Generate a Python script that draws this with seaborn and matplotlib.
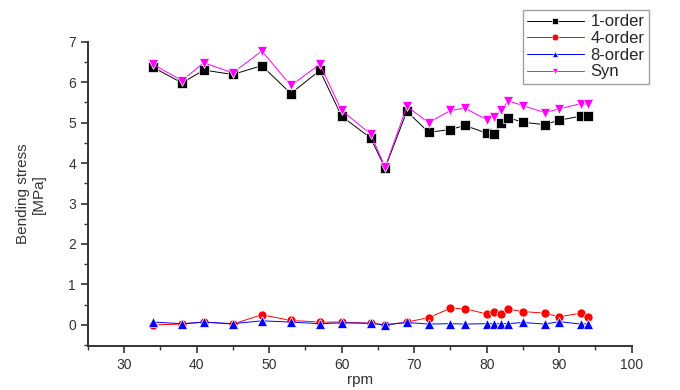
import numpy as np
import pandas as pd
import matplotlib
matplotlib.use("Agg")
import matplotlib.pyplot as plt
import seaborn as sns
from matplotlib.ticker import MultipleLocator

rpm = [34, 38, 41, 45, 49, 53, 57, 60, 64, 66, 69, 72, 75, 77, 80, 81, 82, 83, 85, 88, 90, 93, 94]
order1 = [6.37, 5.98, 6.30, 6.19, 6.41, 5.72, 6.29, 5.16, 4.62, 3.88, 5.28, 4.76, 4.83, 4.93,
          4.74, 4.73, 4.99, 5.12, 5.01, 4.95, 5.06, 5.16, 5.17]
order4 = [0.00, 0.02, 0.07, 0.02, 0.25, 0.11, 0.07, 0.07, 0.04, 0.00, 0.07, 0.18, 0.41, 0.40,
          0.27, 0.33, 0.27, 0.39, 0.33, 0.29, 0.20, 0.29, 0.20]
order8 = [0.07, 0.03, 0.07, 0.03, 0.10, 0.07, 0.03, 0.05, 0.04, 0.00, 0.06, 0.02, 0.03, 0.02,
          0.03, 0.03, 0.03, 0.03, 0.06, 0.02, 0.08, 0.02, 0.03]
syn = [6.44, 6.04, 6.48, 6.23, 6.77, 5.92, 6.44, 5.30, 4.72, 3.90, 5.40, 5.00, 5.30, 5.36,
       5.07, 5.14, 5.32, 5.54, 5.42, 5.25, 5.34, 5.47, 5.45]
series_names = ["1-order", "4-order", "8-order", "Syn"]

frames = []
for name, vals in zip(series_names, [order1, order4, order8, syn]):
    frames.append(pd.DataFrame({"rpm": rpm, "stress": vals, "series": name}))
df = pd.concat(frames, ignore_index=True)

sns.set_style("white")
plt.rcParams['font.family'] = ['Liberation Sans', 'DejaVu Sans']

fig = plt.figure(figsize=(6.8, 3.9), dpi=100)
ax = fig.add_axes([0.129, 0.113, 0.800, 0.780])

palette = {"1-order": "black", "4-order": "red", "8-order": "blue", "Syn": "magenta"}
markers = {"1-order": "s", "4-order": "o", "8-order": "^", "Syn": "v"}
sns.lineplot(data=df, x="rpm", y="stress", hue="series", style="series",
             palette=palette, markers=markers, dashes=False, ax=ax,
             linewidth=0.7, markersize=6.5, markeredgewidth=0.5, sort=False)

ax.set_xlim(25, 100)
ax.set_ylim(-0.52, 7.0)
ax.xaxis.set_major_locator(MultipleLocator(10))
ax.xaxis.set_minor_locator(MultipleLocator(5))
ax.yaxis.set_major_locator(MultipleLocator(1))
ax.yaxis.set_minor_locator(MultipleLocator(0.5))
ax.set_xticks(range(30, 101, 10))
ax.tick_params(which="major", direction="out", length=5, width=1.2, labelsize=10,
               bottom=True, left=True, colors="#333333")
ax.tick_params(which="minor", direction="out", length=3, width=1.0, bottom=True, left=True,
               colors="#333333")
for s in ["top", "right"]:
    ax.spines[s].set_visible(False)
for s in ["left", "bottom"]:
    ax.spines[s].set_color("#333333")
    ax.spines[s].set_linewidth(1.4)

ax.set_xlabel("rpm", fontsize=11, labelpad=1, color="#333333")
ax.set_ylabel("Bending stress\n[MPa]", fontsize=11, color="#333333", labelpad=16)

leg = ax.legend(loc="upper right", bbox_to_anchor=(0.966, 0.995),
                bbox_transform=fig.transFigure, fontsize=12, frameon=True,
                fancybox=False, edgecolor="#888888", handlelength=3.4,
                borderpad=0.25, labelspacing=0.1, handletextpad=0.4, markerscale=0.75)
leg.get_frame().set_linewidth(1.0)
leg.set_title(None)

fig.savefig("out.png", dpi=100)
